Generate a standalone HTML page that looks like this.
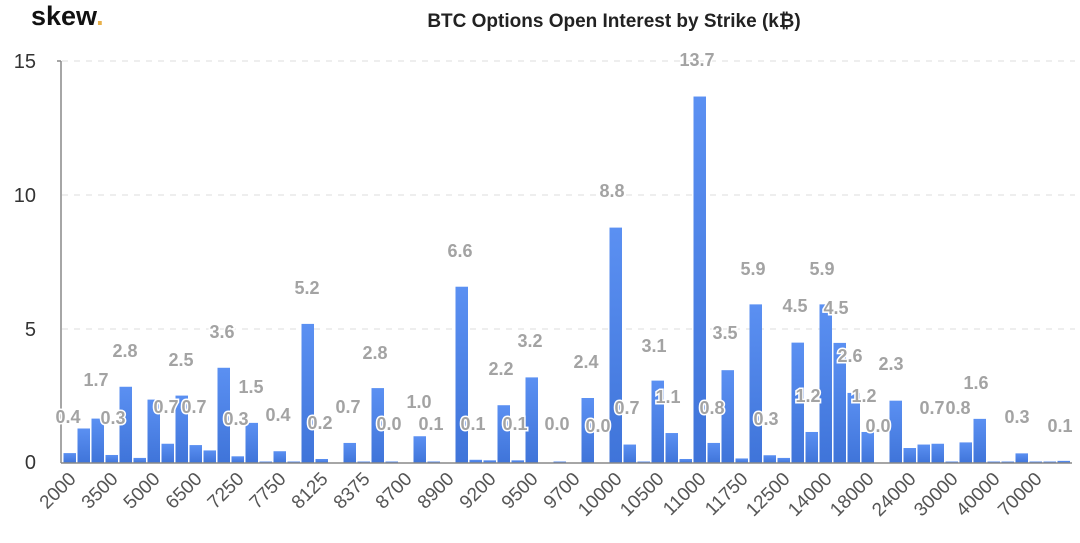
<!DOCTYPE html>
<html><head><meta charset="utf-8"><style>
html,body{margin:0;padding:0;background:#fff;}
svg{display:block;font-family:"Liberation Sans",sans-serif;}
.v{font-size:18px;font-weight:bold;fill:#a3a3a3;stroke:#fff;stroke-width:3px;paint-order:stroke;text-anchor:middle;}
.xl{font-size:19px;fill:#555;text-anchor:end;}
.yl{font-size:20px;fill:#333;text-anchor:end;}
</style></head><body>
<svg width="1080" height="543" viewBox="0 0 1080 543" xmlns="http://www.w3.org/2000/svg">
<defs><linearGradient id="g" x1="0" y1="0" x2="0" y2="1"><stop offset="0" stop-color="#5b90f2"/><stop offset="1" stop-color="#3f74d9"/></linearGradient></defs>
<text x="31" y="25" font-size="27" font-weight="bold" fill="#111">skew<tspan fill="#e8b04a">.</tspan></text>
<text x="614" y="27" font-size="19" font-weight="bold" fill="#222" text-anchor="middle">BTC Options Open Interest by Strike (k₿)</text>
<g stroke="#ddd" stroke-dasharray="6,6" stroke-width="1">
<line x1="62" y1="61" x2="1075" y2="61"/><line x1="62" y1="195" x2="1075" y2="195"/><line x1="62" y1="329" x2="1075" y2="329"/>
</g>
<line x1="61" y1="61" x2="61" y2="463" stroke="#888" stroke-width="1.5"/>
<line x1="57" y1="61" x2="61" y2="61" stroke="#888" stroke-width="1.5"/>
<text class="yl" x="36" y="68">15</text>
<text class="yl" x="36" y="202">10</text>
<text class="yl" x="36" y="336">5</text>
<text class="yl" x="36" y="469">0</text>
<g id="bars" fill="url(#g)"></g>
<line x1="61" y1="463" x2="1072" y2="463" stroke="#888" stroke-width="1.5"/>
<g id="xl"></g>
<g id="vl"></g>
</svg>
<script>
var v=[0.37,1.29,1.66,0.3,2.85,0.19,2.37,0.72,2.52,0.67,0.47,3.56,0.25,1.5,0.02,0.44,0.02,5.2,0.15,0,0.75,0.03,2.8,0.03,0,1.0,0.05,0,6.59,0.12,0.1,2.16,0.1,3.2,0,0.03,0,2.43,0,8.8,0.69,0.02,3.08,1.12,0.15,13.7,0.75,3.47,0.17,5.93,0.29,0.19,4.5,1.16,5.93,4.49,2.62,1.16,0,2.33,0.56,0.69,0.72,0.03,0.77,1.65,0.03,0.02,0.36,0.02,0.02,0.08];
var ns="http://www.w3.org/2000/svg",b=document.getElementById('bars'),s=26.75;
v.forEach(function(d,i){var h=Math.max(d*s,d>0?1.5:0);if(!h)return;var r=document.createElementNS(ns,'rect');var cx=70+14*i;r.setAttribute('x',cx-6.5);r.setAttribute('width',12.5);r.setAttribute('y',463-h);r.setAttribute('height',h);b.appendChild(r);});
var L=["2000","3500","5000","6500","7250","7750","8125","8375","8700","8900","9200","9500","9700","10000","10500","11000","11750","12500","14000","18000","24000","30000","40000","70000"];
var xg=document.getElementById('xl');
L.forEach(function(t,k){var x=70+42*k+7,y=480;var e=document.createElementNS(ns,'text');e.setAttribute('class','xl');e.setAttribute('x',x);e.setAttribute('y',y);e.setAttribute('transform','rotate(-45 '+x+' '+y+')');e.textContent=t;xg.appendChild(e);});
var V=[["0.4",68,423],["1.7",96,386],["0.3",113,424],["2.8",125,357],["0.7",166,413],["2.5",181,366],["0.7",194,413],["3.6",222,338],["0.3",236,425],["1.5",251,393],["0.4",278,421],["5.2",307,294],["0.2",320,429],["0.7",348,413],["2.8",375,359],["0.0",389,430],["1.0",419,408],["0.1",431,430],["6.6",460,257],["0.1",473,430],["2.2",501,375],["0.1",515,430],["3.2",530,347],["0.0",557,430],["2.4",586,368],["0.0",598,432],["8.8",612,197],["0.7",627,414],["3.1",654,352],["1.1",668,403],["13.7",697,66],["0.8",712,414],["3.5",725,339],["5.9",753,275],["0.3",766,425],["4.5",795,312],["1.2",808,402],["5.9",822,275],["4.5",836,314],["2.6",850,362],["1.2",864,402],["0.0",878,432],["2.3",891,370],["0.7",932,414],["0.8",958,414],["1.6",976,389],["0.3",1017,423],["0.1",1060,432]];
var vg=document.getElementById('vl');
V.forEach(function(a){var e=document.createElementNS(ns,'text');e.setAttribute('class','v');e.setAttribute('x',a[1]);e.setAttribute('y',a[2]);e.textContent=a[0];vg.appendChild(e);});
</script>
</body></html>
